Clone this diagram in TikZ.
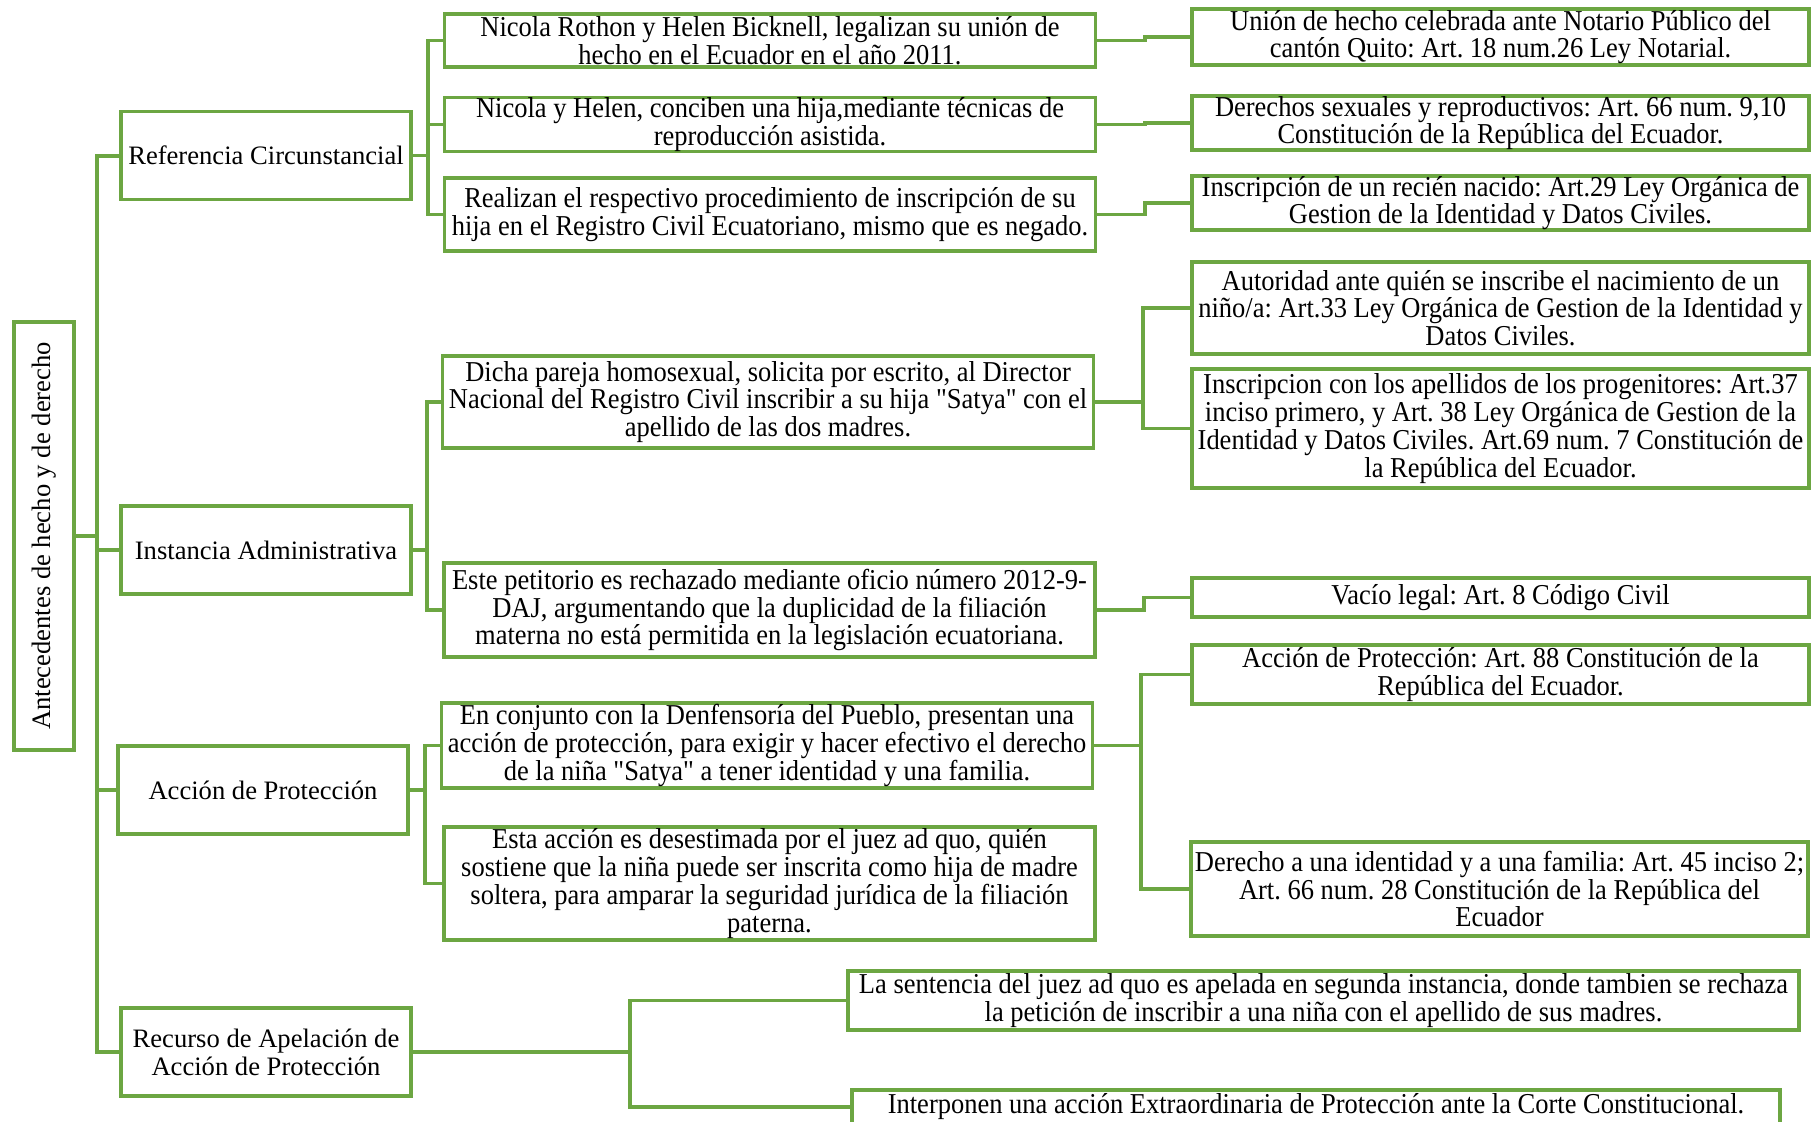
\documentclass[tikz,border=0pt]{standalone}
\usepackage{fontspec}
\setmainfont{Liberation Serif}
\newfontfamily\angosta[FakeStretch=0.92]{Liberation Serif}
\usepackage{tikz}
\usetikzlibrary{calc}
\definecolor{verde}{RGB}{108,166,66}
\frenchspacing

\begin{document}
\begin{tikzpicture}[x=0.5pt,y=-0.5pt,
     caja/.style={draw=verde,line width=1.6pt,fill=white,align=center,inner xsep=1pt,inner ysep=0pt},
     nivel1/.style={caja,minimum width=145pt,minimum height=44pt,font=\fontsize{13.3}{13.9}\selectfont},
     nivel2/.style={caja,minimum width=325.5pt,font=\angosta\fontsize{14.4}{13.9}\selectfont},
     nivel3/.style={caja,minimum width=308.5pt,font=\angosta\fontsize{14.4}{13.9}\selectfont},
     linea/.style={draw=verde,line width=1.6pt}
     ]
%Size of the page, in pixels
\def \ancho{1811}
\def \alto{1121}
\fill[white] (0,0) rectangle (\ancho,\alto);
\useasboundingbox (0,0) rectangle (\ancho,\alto);

%x of the centres of the columns
\def \xuno{266}
\def \xdos{770}
\def \xtres{1500.5}

%Root box, text going upwards
\node[caja,rotate=90,minimum width=214pt,minimum height=30pt,font=\fontsize{13.3}{13.9}\selectfont] (raiz) at (44,536) {Antecedentes de hecho y de derecho};

%First level
\node[nivel1] (ref) at (\xuno,155.5) {Referencia Circunstancial};
\node[nivel1] (inst) at (\xuno,550) {Instancia Administrativa};
\node[nivel1] (accion) at (263,790) {Acción de Protección};
\node[nivel1] (recurso) at (\xuno,1052) {Recurso de Apelación de\\Acción de Protección};

%Second level
\node[nivel2,minimum height=26.5pt] (nicola) at (\xdos,40.5) {Nicola Rothon y Helen Bicknell, legalizan su unión de\\hecho en el Ecuador en el año 2011.};
\node[nivel2,minimum height=25.5pt] (helen) at (\xdos,124.5) {Nicola y Helen, conciben una hija,mediante técnicas de\\reproducción asistida.};
\node[nivel2,minimum height=36.5pt] (realizan) at (\xdos,214.5) {Realizan el respectivo procedimiento de inscripción de su\\hija en el Registro Civil Ecuatoriano, mismo que es negado.};
\node[nivel2,minimum height=46pt] (dicha) at (768,402) {Dicha pareja homosexual, solicita por escrito, al Director\\Nacional del Registro Civil inscribir a su hija "Satya" con el\\apellido de las dos madres.};
\node[nivel2,minimum height=47pt] (este) at (769.5,610) {Este petitorio es rechazado mediante oficio número 2012-9-\\DAJ, argumentando que la duplicidad de la filiación\\materna no está permitida en la legislación ecuatoriana.};
\node[nivel2,minimum height=42.5pt] (conjunto) at (767,745.5) {En conjunto con la Denfensoría del Pueblo, presentan una\\acción de protección, para exigir y hacer efectivo el derecho\\de la niña "Satya" a tener identidad y una familia.};
\node[nivel2,minimum height=56.5pt] (esta) at (769.5,883.5) {Esta acción es desestimada por el juez ad quo, quién\\sostiene que la niña puede ser inscrita como hija de madre\\soltera, para amparar la seguridad jurídica de la filiación\\paterna.};
\node[nivel2,minimum width=475.5pt,minimum height=29.5pt] (sentencia) at (1323.5,1000.5) {La sentencia del juez ad quo es apelada en segunda instancia, donde tambien se rechaza\\la petición de inscribir a una niña con el apellido de sus madres.};
\node[nivel2,minimum width=464pt,minimum height=17pt] (interponen) at (1316,1107) {Interponen una acción Extraordinaria de Protección ante la Corte Constitucional.};

%Third level
\node[nivel3,minimum height=28pt] (union) at (\xtres,37) {Unión de hecho celebrada ante Notario Público del\\cantón Quito: Art. 18 num.26 Ley Notarial.};
\node[nivel3,minimum height=26pt] (derechos) at (\xtres,123) {Derechos sexuales y reproductivos: Art. 66 num. 9,10\\Constitución de la República del Ecuador.};
\node[nivel3,minimum height=26pt] (inscr) at (\xtres,203) {Inscripción de un recién nacido: Art.29 Ley Orgánica de\\Gestion de la Identidad y Datos Civiles.};
\node[nivel3,minimum height=46pt] (autoridad) at (\xtres,308) {Autoridad ante quién se inscribe el nacimiento de un\\niño/a: Art.33 Ley Orgánica de Gestion de la Identidad y\\Datos Civiles.};
\node[nivel3,minimum height=59.5pt] (apellidos) at (\xtres,428.5) {Inscripcion con los apellidos de los progenitores: Art.37\\inciso primero, y Art. 38 Ley Orgánica de Gestion de la\\Identidad y Datos Civiles. Art.69 num. 7 Constitución de\\la República del Ecuador.};
\node[nivel3,minimum height=19.5pt] (vacio) at (\xtres,597.5) {Vacío legal: Art. 8 Código Civil};
\node[nivel3,minimum height=29.5pt] (art88) at (\xtres,674.5) {Acción de Protección: Art. 88 Constitución de la\\República del Ecuador.};
\node[nivel3,minimum height=47pt] (identidad) at (1499.5,889) {Derecho a una identidad y a una familia: Art. 45 inciso 2;\\Art. 66 num. 28 Constitución de la República del\\Ecuador};

%Trunk from the root box
\foreach \b in {ref,inst,accion,recurso}
   \draw[linea,line width=2pt] (raiz.south) -- (raiz.south -| 97,0) |- (\b.west);

%Elbow connectors: parent/child/x of the bend
\foreach \a/\b/\xc in {ref/nicola/428, ref/helen/428, ref/realizan/428,
      inst/dicha/427, inst/este/427, accion/conjunto/425, accion/esta/425,
      recurso/sentencia/630, recurso/interponen/630,
      nicola/union/1145, helen/derechos/1145, realizan/inscr/1145,
      dicha/autoridad/1143, dicha/apellidos/1143, este/vacio/1144,
      conjunto/art88/1141, conjunto/identidad/1141}
   \draw[linea] (\a.east) -- (\a.east -| \xc,0) |- (\b.west);
\end{tikzpicture}
\end{document}
